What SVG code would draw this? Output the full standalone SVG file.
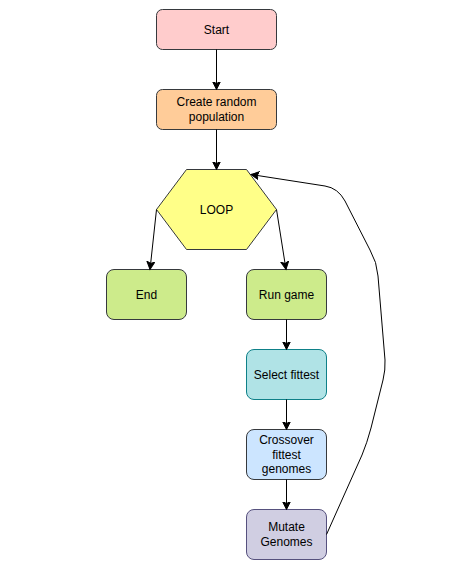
<svg xmlns="http://www.w3.org/2000/svg" width="474" height="566" viewBox="0 0 474 566">
<defs>
<marker id="arr" markerUnits="userSpaceOnUse" markerWidth="10" markerHeight="10" refX="8" refY="4" orient="auto">
<path d="M0,0 L8,4 L0,8 L2,4 Z" fill="#000" stroke="#000" stroke-width="1"/>
</marker>
</defs>
<style>
.n{stroke-width:1}
text{font-family:"Liberation Sans",Arial,sans-serif;font-size:12px;fill:#000;text-anchor:middle}
.e{fill:none;stroke:#000;stroke-width:1;marker-end:url(#arr)}
</style>
<rect width="474" height="566" fill="#fff"/>
<g id="start"><rect class="n" x="156.5" y="9.5" width="120" height="40" rx="6" fill="#ffcccc" stroke="#36393d"/><text x="216.5" y="33.5">Start</text></g>
<g id="create"><rect class="n" x="156.5" y="89.5" width="120" height="40" rx="6" fill="#ffcc99" stroke="#36393d"/><text x="216.5" y="106">Create random</text><text x="216.5" y="121">population</text></g>
<g id="loop"><polygon class="n" points="156.5,209.5 186.5,169.5 246.5,169.5 276.5,209.5 246.5,249.5 186.5,249.5" fill="#ffff88" stroke="#36393d"/><text x="216.5" y="213.5">LOOP</text></g>
<g id="end"><rect class="n" x="106.5" y="269.5" width="80" height="50" rx="7.5" fill="#cdeb8b" stroke="#36393d"/><text x="146.5" y="298.5">End</text></g>
<g id="run"><rect class="n" x="246.5" y="269.5" width="80" height="50" rx="7.5" fill="#cdeb8b" stroke="#36393d"/><text x="286.5" y="298.5">Run game</text></g>
<g id="select"><rect class="n" x="246.5" y="349.5" width="80" height="50" rx="7.5" fill="#b0e3e6" stroke="#0e8088"/><text x="286.5" y="378.5">Select fittest</text></g>
<g id="crossover"><rect class="n" x="246.5" y="429.5" width="80" height="50" rx="7.5" fill="#cce5ff" stroke="#36393d"/><text x="286.5" y="444">Crossover</text><text x="286.5" y="458.5">fittest</text><text x="286.5" y="473">genomes</text></g>
<g id="mutate"><rect class="n" x="246.5" y="509.5" width="80" height="50" rx="7.5" fill="#d0cee2" stroke="#56517e"/><text x="286.5" y="531">Mutate</text><text x="286.5" y="546">Genomes</text></g>
<g id="connectors">
<path class="e" d="M216.5,49.5 L216.5,89.5"/>
<path class="e" d="M216.5,129.5 L216.5,169.5"/>
<path class="e" d="M156.5,209.5 L150,269.5"/>
<path class="e" d="M276.5,209.5 L286,269.5"/>
<path class="e" d="M286.5,319.5 L286.5,349.5"/>
<path class="e" d="M286.5,399.5 L286.5,429.5"/>
<path class="e" d="M286.5,479.5 L286.5,509.5"/>
<path class="e" d="M326.5,534.5 L362,455 Q367,443 371,428 L383,380 Q385.5,370 385,360 L378,276 Q377,262 370,250 L345,201 Q338,188 325,186 L251,174.5"/>
</g>
</svg>
